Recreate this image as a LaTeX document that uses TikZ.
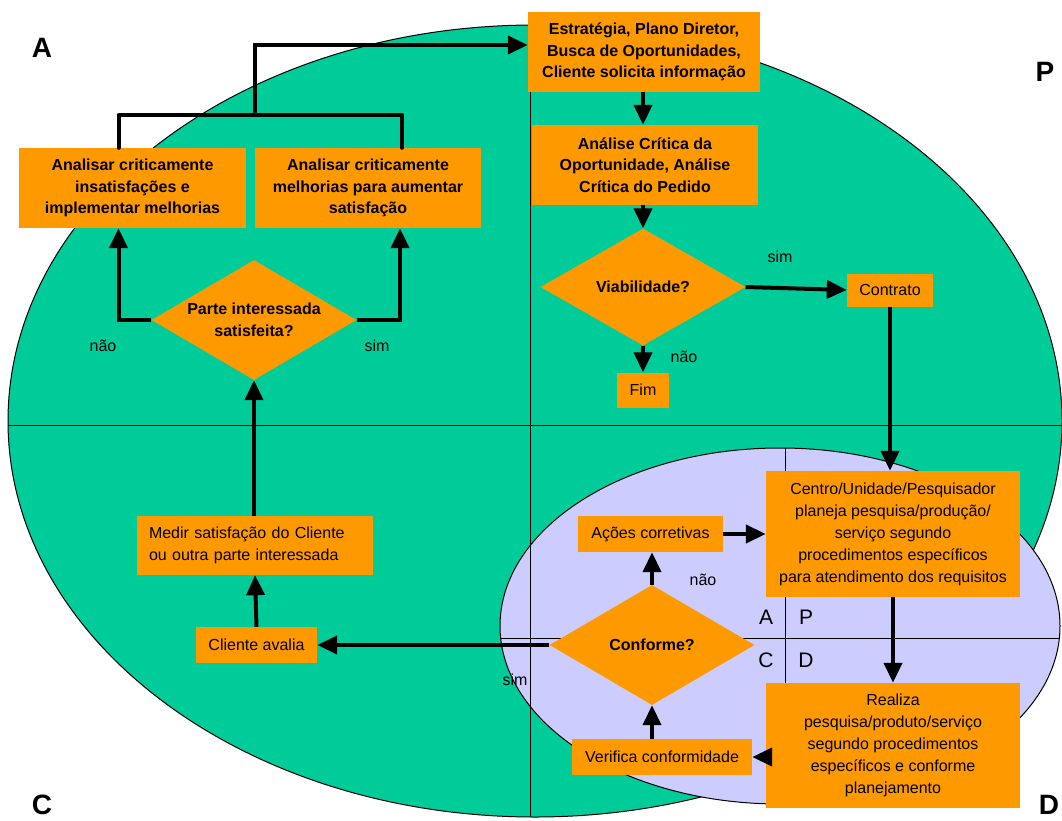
\documentclass[tikz,border=0pt]{standalone}
\usepackage{fontspec}
\setmainfont{Liberation Sans}
\usetikzlibrary{shapes.geometric,arrows.meta,calc}
\definecolor{verde}{HTML}{00CC99}
\definecolor{lav}{HTML}{CCCCFF}
\definecolor{orng}{HTML}{FF9900}
\begin{document}
\begin{tikzpicture}[x=1pt,y=-1pt,
  bbox/.style={fill=orng, inner sep=0pt, align=center, font=\bfseries\fontsize{16}{21.5}\selectfont},
  rbox/.style={fill=orng, inner sep=0pt, align=center, font=\fontsize{16}{22}\selectfont},
  dia/.style={diamond, fill=orng, inner sep=0pt, aspect=1.75, align=center, font=\bfseries\fontsize{16}{21.5}\selectfont},
  lbl/.style={font=\fontsize{16}{18}\selectfont, inner sep=0pt},
  big/.style={font=\bfseries\fontsize{28}{30}\selectfont, inner sep=0pt},
  quad/.style={font=\fontsize{21}{24}\selectfont, inner sep=0pt},
  arr/.style={line width=4pt, -{Triangle[length=20pt,width=18pt]}},
  conn/.style={line width=4pt, line cap=round, line join=round},
  thin/.style={line width=1pt}]
\useasboundingbox (0,0) rectangle (1062,821);
\fill[white] (0,0) rectangle (1062,821);
% background ellipses
\draw[thin, fill=verde] (535,421) ellipse [x radius=527, y radius=396];
\draw[thin, fill=lav] (780,626) ellipse [x radius=280, y radius=178];
\draw[thin] (8,425) -- (1062,425);
\draw[thin] (530,25) -- (530,817);
\draw[thin] (500,638) -- (1060,638);
\draw[thin] (785,448) -- (785,804);
% quadrant letters
\node[big] (qa) at (42,48) {A};
\node[big] (qp) at (1045,72) {P};
\node[big] (qc) at (42,805) {C};
\node[big] (qd) at (1049,805) {D};
\node[quad] (ia) at (766,617) {A};
\node[quad] (ip) at (806,617) {P};
\node[quad] (ic) at (766,660) {C};
\node[quad] (id) at (806,660) {D};
% nodes
\node[bbox, minimum width=232, minimum height=80] (est) at (644,52) {Estratégia, Plano Diretor,\\Busca de Oportunidades,\\Cliente solicita informação};
\node[bbox, minimum width=226, minimum height=80] (ana) at (645,165) {Análise Crítica da\\Oportunidade, Análise\\Crítica do Pedido};
\node[dia, minimum width=205, minimum height=117] (viab) at (643,287) {Viabilidade?};
\node[rbox, minimum width=86, minimum height=33] (contr) at (890,290) {Contrato};
\node[rbox, minimum width=52, minimum height=35] (fim) at (643,390) {Fim};
\node[bbox, minimum width=227, minimum height=80] (an1) at (132.5,188) {Analisar criticamente\\insatisfações e\\implementar melhorias};
\node[bbox, minimum width=226, minimum height=80] (an2) at (368,188) {Analisar criticamente\\melhorias para aumentar\\satisfação};
\node[dia, minimum width=205, minimum height=120] (parte) at (254,320) {Parte interessada\\satisfeita?};
\node[rbox, align=left, minimum width=236, minimum height=59, text width=212] (medir) at (255,545.5) {Medir satisfação do Cliente\\ou outra parte interessada};
\node[rbox, minimum width=121, minimum height=36] (cli) at (256.5,645) {Cliente avalia};
\node[rbox, minimum width=254, minimum height=126] (centro) at (893,534) {Centro/Unidade/Pesquisador\\planeja pesquisa/produção/\\serviço segundo\\procedimentos específicos\\para atendimento dos requisitos};
\node[rbox, minimum width=254, minimum height=125] (real) at (893,745.5) {Realiza\\pesquisa/produto/serviço\\segundo procedimentos\\específicos e conforme\\planejamento};
\node[rbox, minimum width=180, minimum height=36] (verif) at (662,757) {Verifica conformidade};
\node[dia, minimum width=205, minimum height=120] (conf) at (652,645) {Conforme?};
\node[rbox, minimum width=145, minimum height=36] (acoes) at (650.5,534) {Ações corretivas};
% labels
\node[lbl] (l1) at (103,346) {não};
\node[lbl] (l2) at (377,346) {sim};
\node[lbl] (l3) at (780,257) {sim};
\node[lbl] (l4) at (684,357) {não};
\node[lbl] (l5) at (703,580) {não};
\node[lbl] (l6) at (515,680) {sim};
% connectors
\coordinate (jt) at (255,115);
\draw[conn] ([xshift=-14pt]an1.north) |- (jt) -| ([xshift=34pt]an2.north);
\draw[arr] (jt) |- ([yshift=7pt]est.west);
\draw[arr] (est.south -| viab.north) -- (ana.north -| viab.north);
\draw[arr] (ana.south -| viab.north) -- (viab.north);
\draw[arr] (viab.east) -- (contr.west);
\draw[arr] (viab.south) -- (fim.north);
\draw[arr] (contr.south) -- (centro.north -| contr.south);
\draw[arr] (centro.south) -- (real.north);
\draw[arr] (real.west |- verif.east) -- (verif.east);
\draw[arr] (conf.south |- verif.north) -- (conf.south);
\draw[arr] (conf.north) -- (conf.north |- acoes.south);
\draw[arr] (acoes.east) -- (centro.west |- acoes.east);
\draw[arr] (conf.west) -- (cli.east);
\draw[arr] (cli.north) -- (medir.south);
\draw[arr] (parte.south |- medir.north) -- (parte.south);
\draw[arr] (parte.west) -| ([xshift=-14pt]an1.south);
\draw[arr] (parte.east) -| ([xshift=32pt]an2.south);
\end{tikzpicture}
\end{document}
